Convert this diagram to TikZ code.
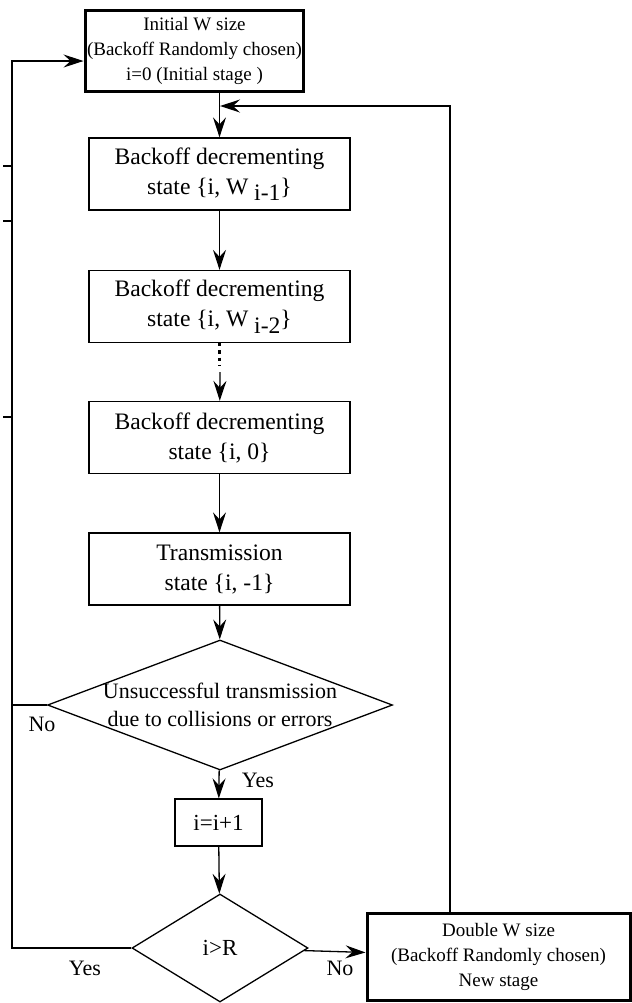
\documentclass[tikz,border=0pt]{standalone}
\usepackage{fontspec}
\setmainfont{Liberation Serif}
\usetikzlibrary{shapes.geometric,arrows.meta}

\begin{document}
\begin{tikzpicture}[x=0.5pt,y=-0.5pt,
		line width=0.65pt,
		arrow/.style={-{Stealth[length=10pt,width=6.5pt,inset=3.5pt]}},
		statebox/.style={draw,align=center,minimum width=130.5pt,minimum height=36pt,font=\fontsize{11.8}{15}\selectfont},
		stagebox/.style={draw,line width=1.5pt,align=center,inner sep=1pt,font=\fontsize{9.5}{12.5}\selectfont},
		decision/.style={draw,diamond,inner sep=0pt},
		answer/.style={font=\fontsize{11}{13}\selectfont}]

		\useasboundingbox (0,0) rectangle (632,1003);

		\node[stagebox,minimum width=107.5pt,minimum height=40.5pt] (init) at (194.5,50.5) {Initial W size\\(Backoff Randomly chosen)\\i=0 (Initial stage )};
		\node[statebox] (dec1) at (219.5,174) {Backoff decrementing\\state \{i, W \raisebox{-0.6ex}{i-1}\}};
		\node[statebox] (dec2) at (219.5,306.5) {Backoff decrementing\\state \{i, W \raisebox{-0.6ex}{i-2}\}};
		\node[statebox] (dec3) at (219.5,437.5) {Backoff decrementing\\state \{i, 0\}};
		\node[statebox] (trans) at (219.5,569) {Transmission\\state \{i, -1\}};
		\node[decision,minimum width=172.5pt,minimum height=65pt,
			label={[align=center,font=\fontsize{11}{14}\selectfont]center:Unsuccessful transmission\\due to collisions or errors}] (fail) at (220,705) {};
		\node[draw,minimum width=43.5pt,minimum height=23.5pt,font=\fontsize{11.5}{13}\selectfont] (inc) at (218.5,822.5) {i=i+1};
		\node[decision,minimum width=88pt,minimum height=54pt,font=\fontsize{11.5}{13}\selectfont] (limit) at (220,948) {i>R};
		\node[stagebox,minimum width=131.5pt,minimum height=43.5pt] (double) at (498.5,956.5) {Double W size\\(Backoff Randomly chosen)\\New stage};

		\coordinate (loop) at (12,61);
		\coordinate (back) at (450,106);
		\coordinate (join) at (220,106);
		\coordinate (gap) at (220,372);

		\draw[arrow] (init.south -| dec1.north) -- (dec1);
		\draw[arrow] (dec1) -- (dec2);
		\draw[dotted,line width=1.6pt] (dec2.south) -- ++(0,22);
		\draw[arrow] (gap) -- (dec3);
		\draw[arrow] (dec3) -- (trans);
		\draw[arrow] (trans) -- (fail);
		\draw[arrow] (fail) -- (inc);
		\draw[arrow] (inc) -- (limit);
		\draw[arrow] (limit) -- (double);
		\draw[arrow] (double.north -| back) -- (back) -- (join);
		\draw (fail.west) -- (fail.west -| loop);
		\draw[arrow] (limit.west) -| (loop) -- (loop -| init.west);

		\draw (3,166) -- (12,166);
		\draw (3,221) -- (12,221);
		\draw (3,417) -- (12,417);

		\node[answer] (no1) at (42,724) {No};
		\node[answer] (yes1) at (258,780) {Yes};
		\node[answer] (yes2) at (85,968) {Yes};
		\node[answer] (no2) at (340,968) {No};

	\end{tikzpicture}
\end{document}
